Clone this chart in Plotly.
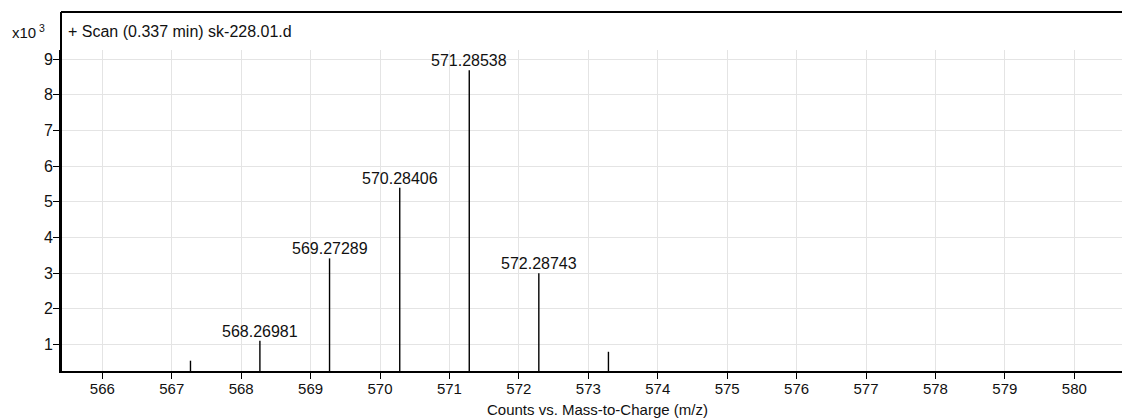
import plotly.graph_objects as go

# Peak list: m/z and counts
mz = [567.27, 568.26981, 569.27289, 570.28406, 571.28538, 572.28743, 573.29]
counts = [540, 1100, 3410, 5390, 8690, 2990, 790]
labelled = [False, True, True, True, True, True, False]

x_ticks = list(range(566, 581))
y_ticks = list(range(1, 10))

title_text = "+ Scan (0.337 min) sk-228.01.d"
x_title = "Counts vs. Mass-to-Charge (m/z)"

W, H = 1122, 419
ML, MR, MT, MB = 61, 0, 50, 48
PW, PH = W - ML - MR, H - MT - MB

FONT = "Liberation Sans, Arial, sans-serif"
INK = "#111111"


def px_x(px):
    return (px - ML) / PW


def px_y(py):
    return (H - MB - py) / PH


scale = 1000.0
ys = [c / scale for c in counts]

# stick spectrum: one vertical segment per peak
sx, sy = [], []
for m, v in zip(mz, ys):
    sx += [m, m, None]
    sy += [0, v, None]

fig = go.Figure()
fig.add_trace(go.Scatter(
    x=sx, y=sy, mode="lines",
    line=dict(color="black", width=1.4),
    hoverinfo="skip", showlegend=False,
))

annotations = []
for m, v, lab in zip(mz, ys, labelled):
    if lab:
        annotations.append(dict(
            x=m, y=v, xref="x", yref="y", text=f"{m:.5f}",
            showarrow=False, yanchor="bottom", xanchor="center",
            yshift=-1, font=dict(family=FONT, size=16, color=INK),
        ))

annotations += [
    dict(x=px_x(66), y=px_y(32), xref="paper", yref="paper", text=title_text,
         showarrow=False, xanchor="left", yanchor="middle",
         font=dict(family=FONT, size=16, color=INK)),
    dict(x=px_x(10), y=px_y(32), xref="paper", yref="paper",
         text="x10<sup> 3</sup>",
         showarrow=False, xanchor="left", yanchor="middle",
         font=dict(family=FONT, size=15, color=INK)),
    dict(x=px_x(597), y=px_y(409), xref="paper", yref="paper", text=x_title,
         showarrow=False, xanchor="center", yanchor="middle",
         font=dict(family=FONT, size=15, color=INK)),
]

shapes = [
    # header frame: top border and left edge up to it
    dict(type="line", xref="paper", yref="paper", x0=0, x1=1,
         y0=px_y(12), y1=px_y(12), line=dict(color="black", width=2)),
    dict(type="line", xref="paper", yref="paper", x0=px_x(61), x1=px_x(61),
         y0=0, y1=px_y(12), line=dict(color="black", width=2)),
]

fig.update_layout(
    width=W, height=H,
    margin=dict(l=ML, r=MR, t=MT, b=MB, pad=0),
    paper_bgcolor="white", plot_bgcolor="white",
    font=dict(family=FONT, size=16, color=INK),
    annotations=annotations, shapes=shapes,
    xaxis=dict(
        range=[565.405, 580.687], tickvals=x_ticks,
        ticktext=[str(t) for t in x_ticks],
        showgrid=True, gridcolor="#e4e4e4", gridwidth=1,
        showline=True, linecolor="black", linewidth=2,
        ticks="outside", ticklen=6, tickwidth=1, tickcolor="black",
        ticklabelstandoff=-3,
        zeroline=False, fixedrange=True,
        tickfont=dict(family=FONT, size=15, color=INK),
    ),
    yaxis=dict(
        range=[0.251, 9.255], tickvals=y_ticks,
        ticktext=[str(t) for t in y_ticks],
        showgrid=True, gridcolor="#e4e4e4", gridwidth=1,
        showline=True, linecolor="black", linewidth=2,
        ticks="outside", ticklen=6, tickwidth=1, tickcolor="black",
        ticklabelstandoff=-3,
        zeroline=False, fixedrange=True,
        tickfont=dict(family=FONT, size=16, color=INK),
    ),
)

fig.write_html("out.html", config={"displayModeBar": False})
